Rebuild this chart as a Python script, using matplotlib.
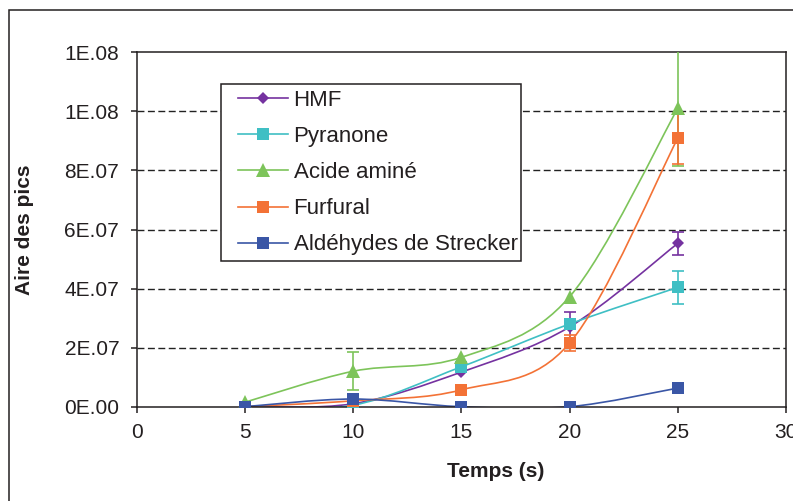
import numpy as np
import matplotlib
matplotlib.use("Agg")
import matplotlib.pyplot as plt
from matplotlib.path import Path
from matplotlib.patches import PathPatch, Rectangle
from matplotlib.lines import Line2D

plt.rcParams['font.family'] = ['Liberation Sans', 'DejaVu Sans']

# ---- data ----
temps = [5, 10, 15, 20, 25]
series_names = ["HMF", "Pyranone", "Acide aminé", "Furfural", "Aldéhydes de Strecker"]
hmf = [0.0, 0.1e7, 1.17e7, 2.7e7, 5.53e7]
pyranone = [0.0, 0.05e7, 1.35e7, 2.8e7, 4.04e7]
acide_amine = [0.15e7, 1.2e7, 1.67e7, 3.72e7, 10.1e7]
furfural = [0.0, 0.2e7, 0.57e7, 2.15e7, 9.09e7]
aldehydes = [0.0, 0.26e7, 0.0, 0.0, 0.63e7]

err_hmf = [None, None, None, 0.5e7, 0.38e7]
err_pyranone = [None, None, None, None, 0.55e7]
err_acide = [None, 0.65e7, None, None, 1.95e7]
err_furfural = [None, None, None, 0.27e7, 0.87e7]
err_aldehydes = [None, None, None, None, None]

x_ticks = [0, 5, 10, 15, 20, 25, 30]
y_ticks = [0, 2e7, 4e7, 6e7, 8e7, 1e8, 1.2e8]
y_tick_labels = ["0E.00", "2E.07", "4E.07", "6E.07", "8E.07", "1E.08", "1E.08"]

colors = ["#7532A0", "#3FBFC4", "#7DC45A", "#F37236", "#3A56A6"]
markers = ["D", "s", "^", "s", "s"]
msizes = [6.5, 8.5, 10, 8.5, 8.5]

values = [hmf, pyranone, acide_amine, furfural, aldehydes]
errors = [err_hmf, err_pyranone, err_acide, err_furfural, err_aldehydes]

W, H = 793, 501
fig = plt.figure(figsize=(W / 100, H / 100), dpi=100)
ax_l, ax_r, ax_t, ax_b = 136.5, 786, 52.3, 406.7
ax = fig.add_axes([ax_l / W, (H - ax_b) / H, (ax_r - ax_l) / W, (ax_b - ax_t) / H])

ink = "#231f20"


def smooth_path(xs, ys):
    P = np.column_stack([xs, ys]).astype(float)
    n = len(P)
    verts = [P[0]]
    codes = [Path.MOVETO]
    for i in range(n - 1):
        p0 = P[i - 1] if i > 0 else P[i]
        p1 = P[i]
        p2 = P[i + 1]
        p3 = P[i + 2] if i + 2 < n else P[i + 1]
        c1 = p1 + (p2 - p0) / 6.0
        c2 = p2 - (p3 - p1) / 6.0
        verts += [c1, c2, p2]
        codes += [Path.CURVE4] * 3
    return Path(verts, codes)


for vals, errs, col, mk, ms in zip(values, errors, colors, markers, msizes):
    ax.add_patch(PathPatch(smooth_path(temps, vals), fill=False, edgecolor=col,
                           lw=1.2, zorder=2))
    ex = [t for t, e in zip(temps, errs) if e is not None]
    ey = [v for v, e in zip(vals, errs) if e is not None]
    ee = [e for e in errs if e is not None]
    if ex:
        ax.errorbar(ex, ey, yerr=ee, fmt='none', ecolor=col, elinewidth=1.2,
                    capsize=4, capthick=1.2, zorder=3)
    ax.plot(temps, vals, linestyle='none', marker=mk, markersize=ms,
            color=col, markeredgewidth=0, zorder=4)

ax.set_xlim(0, 30)
ax.set_ylim(0, 1.2e8)
ax.set_xticks(x_ticks)
ax.set_xticklabels([str(t) for t in x_ticks])
ax.set_yticks(y_ticks)
ax.set_yticklabels(y_tick_labels)

ax.tick_params(axis='both', direction='out', length=4.5, width=1.1, color=ink,
               labelsize=15, labelcolor=ink)
ax.tick_params(axis='y', pad=8)
ax.tick_params(axis='x', pad=7)

for s in ax.spines.values():
    s.set_color(ink)
    s.set_linewidth(1.1)

for yv in y_ticks[1:-1]:
    ax.axhline(yv, color="#222222", lw=1.0, linestyle=(0, (5, 2.5)), zorder=1)

# axis titles
fig.text(496 / W, (H - 471.7) / H, "Temps (s)", fontsize=15, fontweight='bold',
         color=ink, ha='center', va='center')
fig.text(25 / W, (H - 229.5) / H, "Aire des pics", fontsize=15, fontweight='bold',
         color=ink, ha='center', va='center', rotation=90)

# legend frame
leg_l, leg_t, leg_r, leg_b = 221, 84, 521, 261
ax.add_patch(Rectangle((leg_l / W, (H - leg_b) / H), (leg_r - leg_l) / W,
                       (leg_b - leg_t) / H, transform=fig.transFigure,
                       facecolor='white', edgecolor=ink, lw=1.1, zorder=4.5,
                       clip_on=False))

handles = [Line2D([], [], color=c, lw=1.2, marker=m, markersize=s,
                  markeredgewidth=0) for c, m, s in zip(colors, markers, msizes)]
leg = ax.legend(handles, series_names, loc='upper left',
                bbox_to_anchor=(238 / W, (H - 90) / H),
                bbox_transform=fig.transFigure, frameon=False, borderpad=0,
                borderaxespad=0, handlelength=2.25, handletextpad=0.25,
                labelspacing=0.68, numpoints=1, fontsize=16)
for t in leg.get_texts():
    t.set_color(ink)
leg.set_zorder(5)

# outer chart border
fig.patches.append(Rectangle((9 / W, -0.05), 1.2, (H - 10) / H + 0.05,
                             transform=fig.transFigure, fill=False,
                             edgecolor=ink, lw=1.1))

fig.savefig("out.png", dpi=100)
